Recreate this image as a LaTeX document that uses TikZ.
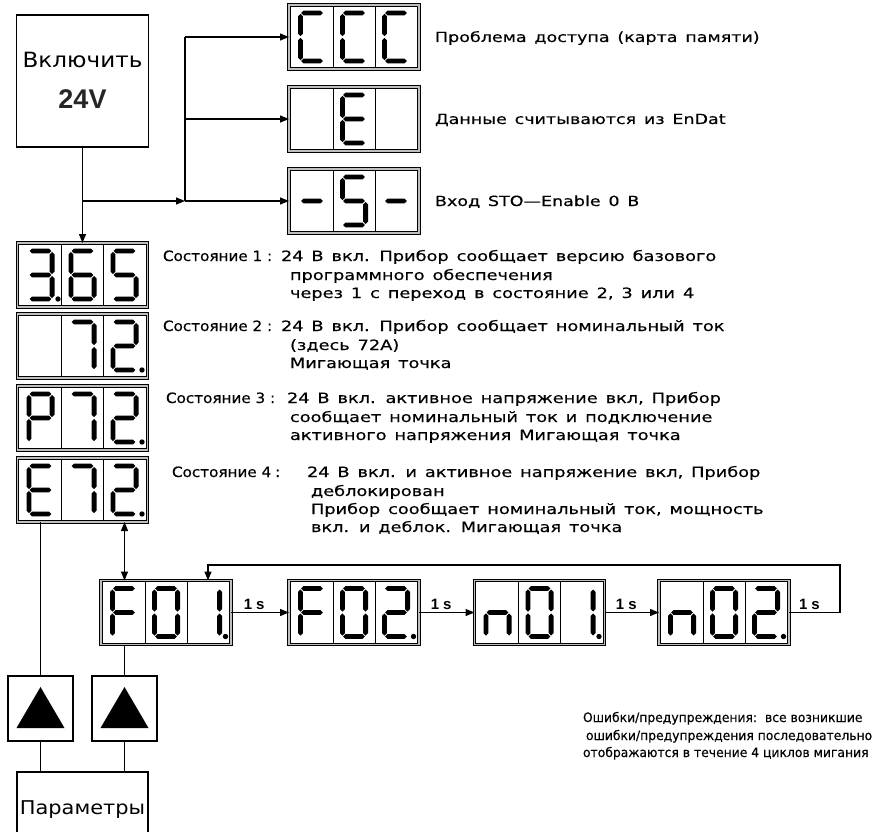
\documentclass[tikz,border=0pt]{standalone}
\usepackage{fontspec}
\setmainfont{DejaVu Sans}[FakeStretch=1.1]
\newfontfamily\arialf{Liberation Sans}
\newfontfamily\stf{DejaVu Sans}[FakeStretch=1.25, WordSpace=1.4, FakeBold=0.35]
\newfontfamily\hdf{DejaVu Sans}[FakeStretch=1.07, FakeBold=0.35]
\newfontfamily\erf{DejaVu Sans}[FakeStretch=0.95, FakeBold=0.35]
\usetikzlibrary{arrows.meta}
% seven segment helpers
\newcommand{\hsg}[1]{\fill ({\dcx-10.8},{#1}) -- ({\dcx-8.4},{#1-2.4}) -- ({\dcx+8.4},{#1-2.4}) -- ({\dcx+10.8},{#1}) -- ({\dcx+8.4},{#1+2.4}) -- ({\dcx-8.4},{#1+2.4}) -- cycle;}
\newcommand{\vsg}[3]{\fill ({#1},{#2+0.9}) -- ({#1+2.4},{#2+3.3}) -- ({#1+2.4},{#3-3.3}) -- ({#1},{#3-0.9}) -- ({#1-2.4},{#3-3.3}) -- ({#1-2.4},{#2+3.3}) -- cycle;}
\newcommand{\sgA}{\hsg{\dcy-24}}
\newcommand{\sgG}{\hsg{\dcy}}
\newcommand{\sgD}{\hsg{\dcy+24}}
\newcommand{\sgB}{\vsg{\dcx+11.6}{\dcy-24}{\dcy}}
\newcommand{\sgC}{\vsg{\dcx+11.6}{\dcy}{\dcy+24}}
\newcommand{\sgE}{\vsg{\dcx-11.6}{\dcy}{\dcy+24}}
\newcommand{\sgF}{\vsg{\dcx-11.6}{\dcy-24}{\dcy}}
\newcommand{\sgP}{\fill ({\dcx+17.5},{\dcy+24}) circle (2.7pt);}
\newcommand{\glC}{\sgA\sgD\sgE\sgF}
\newcommand{\glE}{\sgA\sgD\sgE\sgF\sgG}
\newcommand{\glS}{\sgA\sgF\sgG\sgC\sgD}
\newcommand{\glDash}{\sgG}
\newcommand{\glThree}{\sgA\sgB\sgG\sgC\sgD}
\newcommand{\glSix}{\sgA\sgF\sgE\sgD\sgC\sgG}
\newcommand{\glSeven}{\sgA\sgB\sgC}
\newcommand{\glTwo}{\sgA\sgB\sgG\sgE\sgD}
\newcommand{\glP}{\sgA\sgB\sgF\sgG\sgE}
\newcommand{\glF}{\sgA\sgF\sgE\sgG}
\newcommand{\glZero}{\sgA\sgB\sgC\sgD\sgE\sgF}
\newcommand{\glOne}{\sgB\sgC}
\newcommand{\glN}{\sgE\sgG\sgC}
\newcommand{\sdisp}[6]{%
  \node[disp] (#1) at (#2,#3) {};
  \draw[line width=0.9pt] ({#2-21},{#3-30.5}) -- ({#2-21},{#3+30.5});
  \draw[line width=0.9pt] ({#2+21},{#3-30.5}) -- ({#2+21},{#3+30.5});
  \def\dcy{#3}%
  \def\dcx{#2-42}#4%
  \def\dcx{#2}#5%
  \def\dcx{#2+42}#6}
\begin{document}
\begin{tikzpicture}[x=1pt,y=-1pt,
  every node/.style={inner sep=0pt, outer sep=0pt},
  ttxt/.style={anchor=base west, font=\stf\fontsize{14}{17}\selectfont},
  txt/.style={anchor=base west, font=\stf\fontsize{14.2}{17}\selectfont},
  htxt/.style={anchor=base west, font=\hdf\fontsize{14.2}{17}\selectfont},
  etxt/.style={anchor=base west, font=\erf\fontsize{13}{15}\selectfont},
  disp/.style={draw, line width=0.9pt, double=gray!50, double distance=1.4pt, fill=white, minimum width=130pt, minimum height=64pt},
  box/.style={draw, line width=1.2pt},
  con/.style={line width=1.2pt},
  arr/.style={con, -{Triangle[length=9pt,width=7pt]}},
  darr/.style={con, {Triangle[length=9pt,width=7pt]}-{Triangle[length=9pt,width=7pt]}},
  lbl/.style={font=\arialf\bfseries\fontsize{15}{17}\selectfont, above=2.5pt}
]
\useasboundingbox (0,0) rectangle (875,832);

% power box
\node[box, minimum width=132pt, minimum height=132pt] (pwr) at (82.5,81) {};
\node[font=\fontsize{21}{25}\selectfont] (pwrt) at (82.5,60) {Включить};
\node[font=\arialf\bfseries\fontsize{27}{30}\selectfont, text=black!85] (pwrv) at (82.5,99) {24V};

% top displays
\sdisp{dC}{354}{37}{\glC}{\glC}{\glC}
\sdisp{dE}{354}{119}{}{\glE}{}
\sdisp{dS}{354}{201}{\glDash}{\glS}{\glDash}

% state displays
\sdisp{d1}{82.5}{275}{\glThree\sgP}{\glSix}{\glS}
\sdisp{d2}{82.5}{346}{}{\glSeven}{\glTwo\sgP}
\sdisp{d3}{82.5}{418}{\glP}{\glSeven}{\glTwo\sgP}
\sdisp{d4}{82.5}{490}{\glE}{\glSeven}{\glTwo\sgP}

% error displays
\sdisp{f1}{166}{612.5}{\glF}{\glZero}{\glOne\sgP}
\sdisp{f2}{354}{612.5}{\glF}{\glZero}{\glTwo\sgP}
\sdisp{n1}{539.5}{612.5}{\glN}{\glZero}{\glOne\sgP}
\sdisp{n2}{724}{612.5}{\glN}{\glZero}{\glTwo\sgP}

% connectors from power
\coordinate (j1) at (82.5,201);
\coordinate (j2) at (185,201);
\coordinate (b1) at (185,37);
\coordinate (b2) at (185,119);
\draw[arr] (pwr.south) -- (d1.north);
\draw[arr] (j1) -- (j2);
\draw[con] (b1) -- (j2);
\draw[arr] (b1) -- (dC.west);
\draw[arr] (b2) -- (dE.west);
\draw[arr] (j2) -- (dS.west);

% top texts
\node[ttxt] (t1) at (435,42) {Проблема доступа (карта памяти)};
\node[ttxt] (t2) at (435,124) {Данные считываются из EnDat};
\node[ttxt] (t3) at (435,206) {Вход STO—Enable 0 В};

% state texts
\node[htxt] (s1h) at (163,261) {Состояние 1 :};
\node[txt] (s1a) at (281,261) {24 В вкл. Прибор сообщает версию базового};
\node[txt] (s1b) at (290,280) {программного обеспечения};
\node[txt] (s1c) at (290,298) {через 1 с переход в состояние 2, 3 или 4};
\node[htxt] (s2h) at (163,331) {Состояние 2 :};
\node[txt] (s2a) at (281,331) {24 В вкл. Прибор сообщает номинальный ток};
\node[txt] (s2b) at (290,350) {(здесь 72А)};
\node[txt] (s2c) at (290,368) {Мигающая точка};
\node[htxt] (s3h) at (166,403) {Состояние 3 :};
\node[txt] (s3a) at (287,403) {24 В вкл. активное напряжение вкл, Прибор};
\node[txt] (s3b) at (290,422) {сообщает номинальный ток и подключение};
\node[txt] (s3c) at (290,440) {активного напряжения Мигающая точка};
\node[htxt] (s4h) at (172,477) {Состояние 4\hspace{4pt}:};
\node[txt] (s4a) at (307,477) {24 В вкл. и активное напряжение вкл, Прибор};
\node[txt] (s4b) at (311,496) {деблокирован};
\node[txt] (s4c) at (311,514) {Прибор сообщает номинальный ток, мощность};
\node[txt] (s4d) at (311,532) {вкл. и деблок. Мигающая точка};

% error chain
\coordinate (fb1) at (840,612.5);
\coordinate (fb2) at (840,565);
\draw[darr] ([xshift=42pt]d4.south) -- ([xshift=42pt]d4.south |- f1.north);
\draw[arr] (f1.east) -- node[lbl, pos=0.4] (l1) {1\hspace{4pt}s} (f2.west);
\draw[arr] (f2.east) -- node[lbl, pos=0.4] (l2) {1\hspace{4pt}s} (n1.west);
\draw[arr] (n1.east) -- node[lbl, pos=0.4] (l3) {1\hspace{4pt}s} (n2.west);
\draw[arr] (n2.east) -- node[lbl, pos=0.4] (l4) {1\hspace{4pt}s} (fb1) -- (fb2) -| ([xshift=42pt]f1.north);

\node[etxt] (e1) at (583,722) {Ошибки/предупреждения:\ \ все возникшие};
\node[etxt] (e2) at (586,740) {ошибки/предупреждения последовательно};
\node[etxt] (e3) at (583,757) {отображаются в течение 4 циклов мигания};

% keys and parameters
\node[box, minimum size=65pt] (up1) at (40.5,708.5) {};
\node[box, minimum size=65pt] (up2) at (124.5,708.5) {};
\fill (16.5,728) -- (64.5,728) -- (40.5,687) -- cycle;
\fill (100.5,728) -- (148.5,728) -- (124.5,687) -- cycle;
\node[box, minimum width=131pt, minimum height=80pt] (par) at (82.5,812) {};
\node[font=\fontsize{19}{23}\selectfont] (part) at (82.5,810) {Параметры};
\draw[con] (up1.north |- d4.south) -- (up1.north);
\draw[con] (up2.north |- f1.south) -- (up2.north);
\draw[con] (up1.south) -- (up1.south |- par.north);
\draw[con] (up2.south) -- (up2.south |- par.north);
\end{tikzpicture}
\end{document}
